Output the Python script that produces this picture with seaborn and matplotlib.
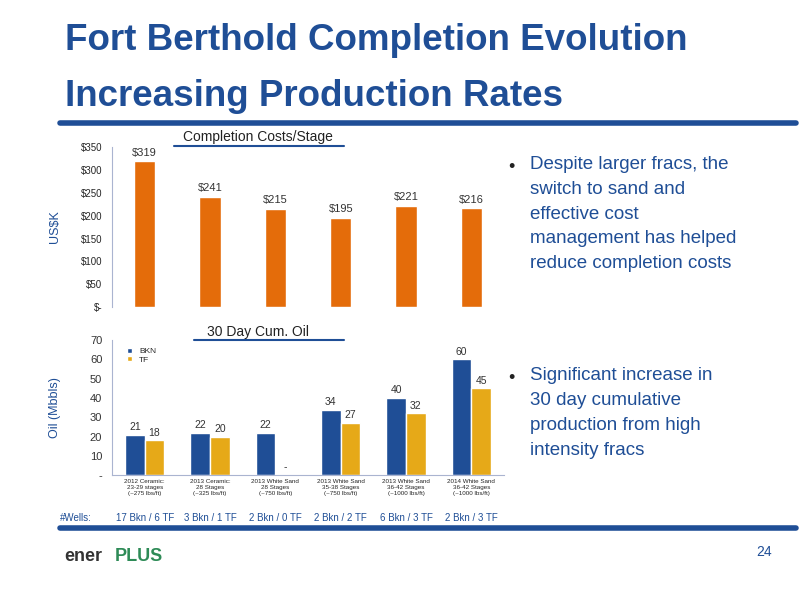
import numpy as np
import pandas as pd
import seaborn as sns
import matplotlib.pyplot as plt

# Data
cost_years = ["2012 Ceramic", "2013 Ceramic", "2013 White Sand 28", "2013 White Sand 35-38",
              "2013 White Sand 36-42", "2014 White Sand"]
cost_values = [319, 241, 215, 195, 221, 216]

oil_labels = ["2012 Ceramic:\n23-29 stages\n(~275 lbs/ft)",
              "2013 Ceramic:\n28 Stages\n(~325 lbs/ft)",
              "2013 White Sand\n28 Stages\n(~750 lbs/ft)",
              "2013 White Sand\n35-38 Stages\n(~750 lbs/ft)",
              "2013 White Sand\n36-42 Stages\n(~1000 lbs/ft)",
              "2014 White Sand\n36-42 Stages\n(~1000 lbs/ft)"]
bkn_values = [21, 22, 22, 34, 40, 60]
tf_values = [18, 20, 0, 27, 32, 45]
wells = ["17 Bkn / 6 TF", "3 Bkn / 1 TF", "2 Bkn / 0 TF", "2 Bkn / 2 TF", "6 Bkn / 3 TF", "2 Bkn / 3 TF"]

blue = "#1F4E96"
orange = "#E46C0A"
gold = "#E6A918"

sns.set_style("white")
plt.rcParams['font.family'] = ['Liberation Sans', 'DejaVu Sans']
fig = plt.figure(figsize=(8, 6), dpi=100)

# Title
fig.text(0.081, 0.932, "Fort Berthold Completion Evolution", fontsize=26.5, fontweight="bold",
         color=blue, va="center")
fig.text(0.081, 0.84, "Increasing Production Rates", fontsize=26.5, fontweight="bold",
         color=blue, va="center")
fig.add_artist(plt.Line2D([0.075, 0.995], [0.795, 0.795], color=blue, lw=4))
fig.add_artist(plt.Line2D([0.075, 0.995], [0.12, 0.12], color=blue, lw=4))

# Top chart: completion costs
ax1 = fig.add_axes([0.14, 0.488, 0.49, 0.267])
cost_df = pd.DataFrame({"cat": cost_years, "cost": cost_values})
sns.barplot(x="cat", y="cost", data=cost_df, color=orange, width=0.33, ax=ax1, saturation=1)
for i, v in enumerate(cost_values):
    ax1.text(i, v + 8, "$%d" % v, ha="center", va="bottom", fontsize=8, color="#333333")
ax1.set_ylim(0, 350)
ax1.set_yticks(range(0, 351, 50))
ax1.set_yticklabels(["$-"] + ["$%d" % t for t in range(50, 351, 50)], fontsize=7)
ax1.set_xticks([])
ax1.set_xlabel("")
ax1.set_ylabel(r"US\$K", fontsize=9, color=blue)
ax1.yaxis.set_label_coords(-0.13, 0.5)
for s in ["top", "right", "bottom"]:
    ax1.spines[s].set_visible(False)
ax1.spines["left"].set_color("#aab4d0")
fig.text(0.323, 0.765, "Completion Costs/Stage", fontsize=10, color="#222222", ha="center")
fig.add_artist(plt.Line2D([0.217, 0.43], [0.757, 0.757], color=blue, lw=1.5))

# Bottom chart: 30 day cum oil
ax2 = fig.add_axes([0.14, 0.208, 0.49, 0.225])
oil_df = pd.DataFrame({"cat": oil_labels * 2,
                       "val": bkn_values + tf_values,
                       "type": ["BKN"] * 6 + ["TF"] * 6})
sns.barplot(x="cat", y="val", hue="type", data=oil_df, palette=[blue, gold],
            width=0.6, ax=ax2, saturation=1)
for i in range(6):
    ax2.text(i - 0.15, bkn_values[i] + 2.5, str(bkn_values[i]), ha="center", fontsize=7.5, color="#333333")
    t = str(tf_values[i]) if tf_values[i] else "-"
    ax2.text(i + 0.15, tf_values[i] + 2.5, t, ha="center", fontsize=7.5, color="#333333")
ax2.set_ylim(0, 70)
ax2.set_yticks(range(0, 71, 10))
ax2.set_yticklabels(["-"] + [str(t) for t in range(10, 71, 10)], fontsize=8, color="#333333")
ax2.tick_params(axis="x", labelsize=4.5, length=0, pad=3)
ax2.set_xlabel("")
ax2.set_ylabel("Oil (Mbbls)", fontsize=9, color=blue)
ax2.yaxis.set_label_coords(-0.13, 0.5)
for s in ["top", "right"]:
    ax2.spines[s].set_visible(False)
ax2.spines["left"].set_color("#aab4d0")
ax2.spines["bottom"].set_color("#aab4d0")
ax2.legend(loc="upper left", bbox_to_anchor=(0.02, 1.0), frameon=False, fontsize=6,
           handlelength=0.6, handleheight=0.6, labelspacing=0.1)
fig.text(0.323, 0.44, "30 Day Cum. Oil", fontsize=10, color="#222222", ha="center")
fig.add_artist(plt.Line2D([0.243, 0.43], [0.433, 0.433], color=blue, lw=1.5))

# Wells row
fig.text(0.075, 0.137, "#Wells:", fontsize=7, color=blue, va="center")
for i, w in enumerate(wells):
    x = ax2.transData.transform((i, 0))[0]
    xf = fig.transFigure.inverted().transform((x, 0))[0]
    fig.text(xf, 0.137, w, fontsize=7, color=blue, ha="center", va="center")

# Bullets
fig.text(0.635, 0.735, "•", fontsize=13, color="#222222", va="top")
fig.text(0.663, 0.74, "Despite larger fracs, the\nswitch to sand and\neffective cost\nmanagement has helped\nreduce completion costs",
         fontsize=13.5, color=blue, va="top", linespacing=1.6)
fig.text(0.635, 0.383, "•", fontsize=13, color="#222222", va="top")
fig.text(0.663, 0.388, "Significant increase in\n30 day cumulative\nproduction from high\nintensity fracs",
         fontsize=13.5, color=blue, va="top", linespacing=1.6)

# Footer
fig.text(0.08, 0.073, "ener", fontsize=13, color="#333333", va="center", fontweight="bold")
fig.text(0.143, 0.073, "PLUS", fontsize=13, color="#2E8B57", va="center", fontweight="bold")
fig.text(0.965, 0.08, "24", fontsize=10, color=blue, ha="right", va="center")

plt.savefig("out.png", dpi=100)
